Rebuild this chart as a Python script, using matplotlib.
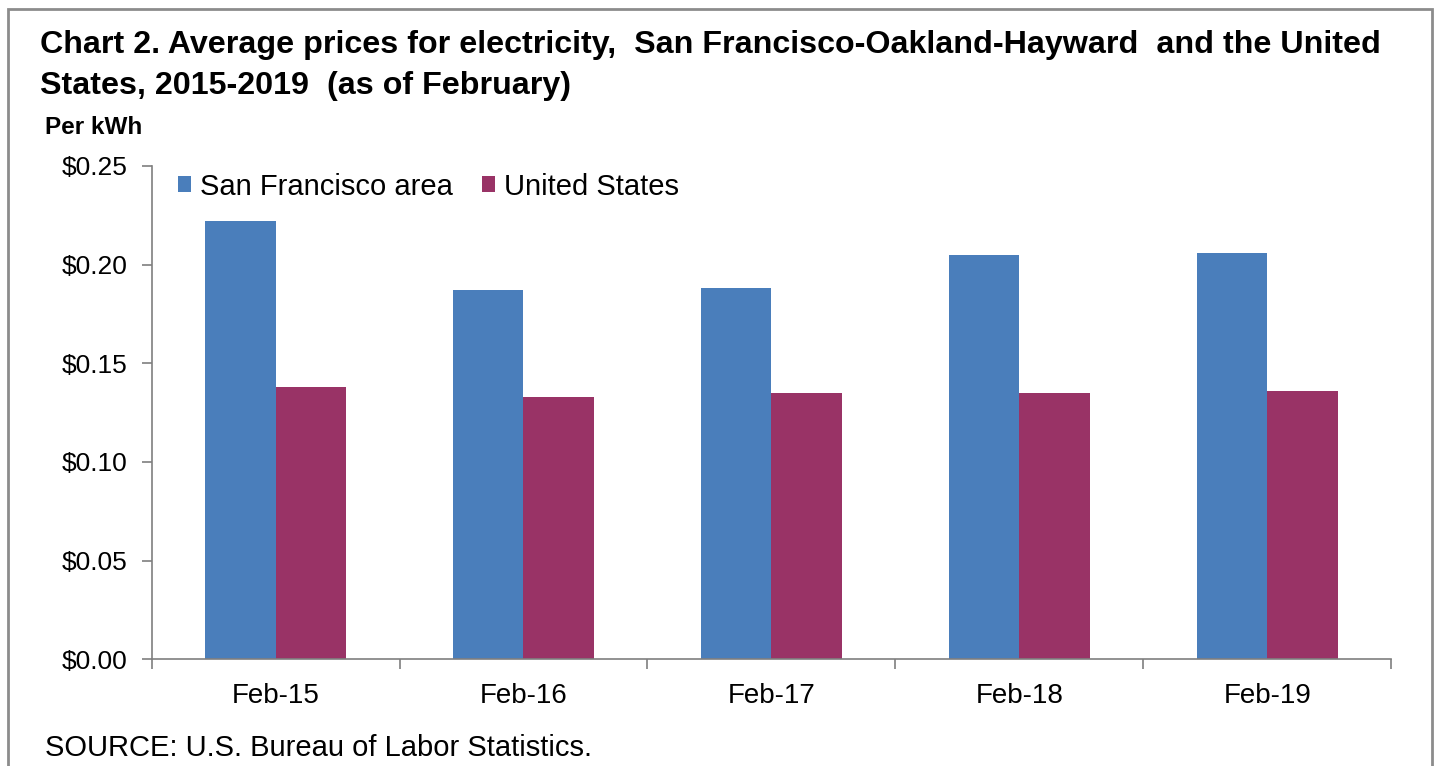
import numpy as np
import matplotlib.pyplot as plt
from matplotlib.patches import Rectangle

# Data
months = ['Feb-15', 'Feb-16', 'Feb-17', 'Feb-18', 'Feb-19']
sf_prices = [0.222, 0.187, 0.188, 0.205, 0.206]
us_prices = [0.138, 0.133, 0.135, 0.135, 0.136]
y_ticks = [0.00, 0.05, 0.10, 0.15, 0.20, 0.25]

plt.rcParams['font.family'] = ['Liberation Sans', 'DejaVu Sans']

fig = plt.figure(figsize=(14.35, 7.66), dpi=100)

# Gray frame round the whole chart
fig.patches.append(Rectangle((8 / 1435, -0.02), 1424 / 1435, 1.0 - 9 / 766 + 0.02,
                             transform=fig.transFigure, fill=False,
                             edgecolor='#8c8c8c', linewidth=2))

ax = fig.add_axes([0.1056, 0.1393, 0.864, 0.644])

x = np.arange(len(months))
w = 1 / 3.5
ax.bar(x - w / 2, sf_prices, width=w, color='#4A7EBB', label='San Francisco area')
ax.bar(x + w / 2, us_prices, width=w, color='#993366', label='United States')

ax.set_xlim(-0.5, len(months) - 0.5)
ax.set_ylim(0, 0.25)
ax.set_yticks(y_ticks)
ax.set_yticklabels(['${:.2f}'.format(v) for v in y_ticks])
ax.set_xticks(x)
ax.set_xticklabels(months)
ax.set_xticks(np.arange(len(months) + 1) - 0.5, minor=True)

ax.tick_params(axis='x', which='major', length=0, pad=17, labelsize=20)
ax.tick_params(axis='x', which='minor', length=7, width=1.2, color='#7f7f7f', direction='out')
ax.tick_params(axis='y', length=7, width=1.2, color='#7f7f7f', pad=10, labelsize=19)

for side in ['top', 'right']:
    ax.spines[side].set_visible(False)
for side in ['left', 'bottom']:
    ax.spines[side].set_color('#7f7f7f')
    ax.spines[side].set_linewidth(1.2)

leg = ax.legend(loc='upper left', bbox_to_anchor=(0.0, 1.04), ncol=2, frameon=False,
                fontsize=21, handlelength=0.45, handleheight=0.45, handletextpad=0.3,
                columnspacing=1.0)

fig.text(40 / 1435, 1 - 45 / 766,
         'Chart 2. Average prices for electricity,  San Francisco-Oakland-Hayward  and the United',
         fontsize=23.2, fontweight='bold', va='center', ha='left')
fig.text(40 / 1435, 1 - 86 / 766, 'States, 2015-2019  (as of February)',
         fontsize=23.2, fontweight='bold', va='center', ha='left')
fig.text(45 / 1435, 1 - 128 / 766, 'Per kWh', fontsize=17.5, fontweight='bold',
         va='center', ha='left')
fig.text(45 / 1435, 1 - 748 / 766, 'SOURCE: U.S. Bureau of Labor Statistics.',
         fontsize=21, va='center', ha='left')

fig.savefig('out.png', dpi=100)
